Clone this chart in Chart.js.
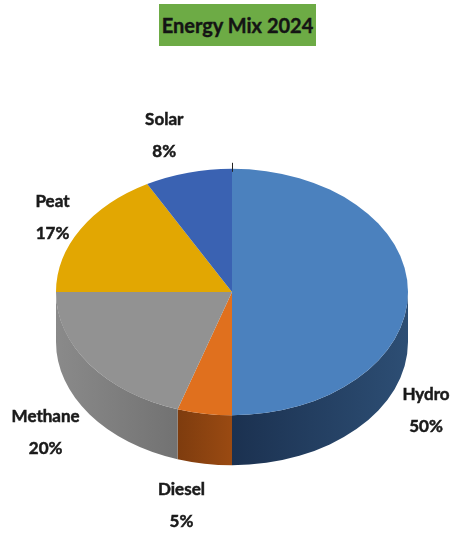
<!DOCTYPE html>
<html>
<head>
<meta charset="utf-8">
<title>Energy Mix 2024</title>
<script src="https://cdn.jsdelivr.net/npm/chart.js@4.4.1/dist/chart.umd.min.js"></script>
<style>
  body { margin: 0; background: #fff; }
  #wrap { position: relative; width: 451px; height: 534px; }
  #title {
    position: absolute; left: 159px; top: 4px; width: 157px; height: 42px;
    background: #6dab45; color: #141414;
    font: bold 20px Lato, "Open Sans", sans-serif;
    -webkit-text-stroke: 0.4px #141414;
    display: flex; align-items: center; justify-content: center;
  }
  canvas { position: absolute; left: 0; top: 0; }
</style>
</head>
<body>
<div id="wrap">
  <canvas id="mix" width="451" height="534"></canvas>
  <div id="title">Energy Mix 2024</div>
</div>
<script>
const sources = ["Hydro", "Diesel", "Methane", "Peat", "Solar"];
const shares = [50, 5, 20, 17, 8];
const topColors = ["#4b81be", "#e0701e", "#929292", "#e2a702", "#3a62b2"];
const sideColors = [
  ["#1b3150", "#2d4e74"],
  ["#7e3c0e", "#9a4a12"],
  ["#8a8a8a", "#727272"],
  ["#9c7400", "#b58800"],
  ["#223d70", "#2a4a86"]
];
// where each label sits relative to the middle of its slice rim
const labelNudge = [[18, 119], [-23, 92], [-44, 68], [-28, -12], [-24, -37]];

const tilt = 0.7;   // vertical squash of the top face
const depth = 50;   // thickness of the disc in px

// draws the side wall, squashes the top face, then writes the labels
const pie3d = {
  id: "pie3d",
  beforeDatasetsDraw(chart) {
    const ctx = chart.ctx;
    const arcs = chart.getDatasetMeta(0).data;
    const cx = arcs[0].x, cy = arcs[0].y, R = arcs[0].outerRadius;
    const ry = R * tilt;

    arcs.forEach((arc, i) => {
      // only the front half (canvas angles 0..PI) shows a wall
      const s = Math.max(arc.startAngle, 0);
      const e = Math.min(arc.endAngle, Math.PI);
      if (e <= s) return;
      const x0 = cx + R * Math.cos(s), x1 = cx + R * Math.cos(e);
      const g = ctx.createLinearGradient(Math.min(x0, x1), 0, Math.max(x0, x1), 0);
      g.addColorStop(0, sideColors[i][0]);
      g.addColorStop(1, sideColors[i][1]);
      ctx.beginPath();
      ctx.ellipse(cx, cy, R, ry, 0, s, e);
      ctx.lineTo(cx + R * Math.cos(e), cy + ry * Math.sin(e) + depth);
      ctx.ellipse(cx, cy + depth, R, ry, 0, e, s, true);
      ctx.closePath();
      ctx.fillStyle = g;
      ctx.fill();
    });

    ctx.save();
    ctx.translate(cx, cy);
    ctx.scale(1, tilt);
    ctx.translate(-cx, -cy);
  },
  afterDatasetsDraw(chart) {
    const ctx = chart.ctx;
    ctx.restore();

    const arcs = chart.getDatasetMeta(0).data;
    const cx = arcs[0].x, cy = arcs[0].y, R = arcs[0].outerRadius;

    // small seam tick at the back edge where the first slice starts
    ctx.save();
    ctx.strokeStyle = "#222";
    ctx.lineWidth = 1;
    ctx.beginPath();
    ctx.moveTo(cx + 0.5, cy - R * tilt - 6);
    ctx.lineTo(cx + 0.5, cy - R * tilt + 3);
    ctx.stroke();
    ctx.restore();

    ctx.save();
    ctx.font = "bold 17px Lato, 'Open Sans', sans-serif";
    ctx.fillStyle = "#1a1a1a";
    ctx.strokeStyle = "#1a1a1a";
    ctx.lineWidth = 0.5;
    ctx.textAlign = "center";
    ctx.textBaseline = "middle";
    arcs.forEach((arc, i) => {
      const mid = (arc.startAngle + arc.endAngle) / 2;
      const lx = cx + R * Math.cos(mid) + labelNudge[i][0];
      const ly = cy + R * tilt * Math.sin(mid) + labelNudge[i][1];
      [sources[i], shares[i] + "%"].forEach((t, k) => {
        const ty = ly + (k ? 16 : -16);
        ctx.fillText(t, lx, ty);
        ctx.strokeText(t, lx, ty);
      });
    });
    ctx.restore();
  }
};

new Chart(document.getElementById("mix"), {
  type: "pie",
  data: {
    labels: sources,
    datasets: [{
      data: shares,
      backgroundColor: topColors,
      borderWidth: 0
    }]
  },
  options: {
    responsive: false,
    animation: false,
    events: [],
    layout: { padding: { left: 56, right: 43, top: 116, bottom: 66 } },
    plugins: {
      legend: { display: false },
      tooltip: { enabled: false }
    }
  },
  plugins: [pie3d]
});
</script>
</body>
</html>
